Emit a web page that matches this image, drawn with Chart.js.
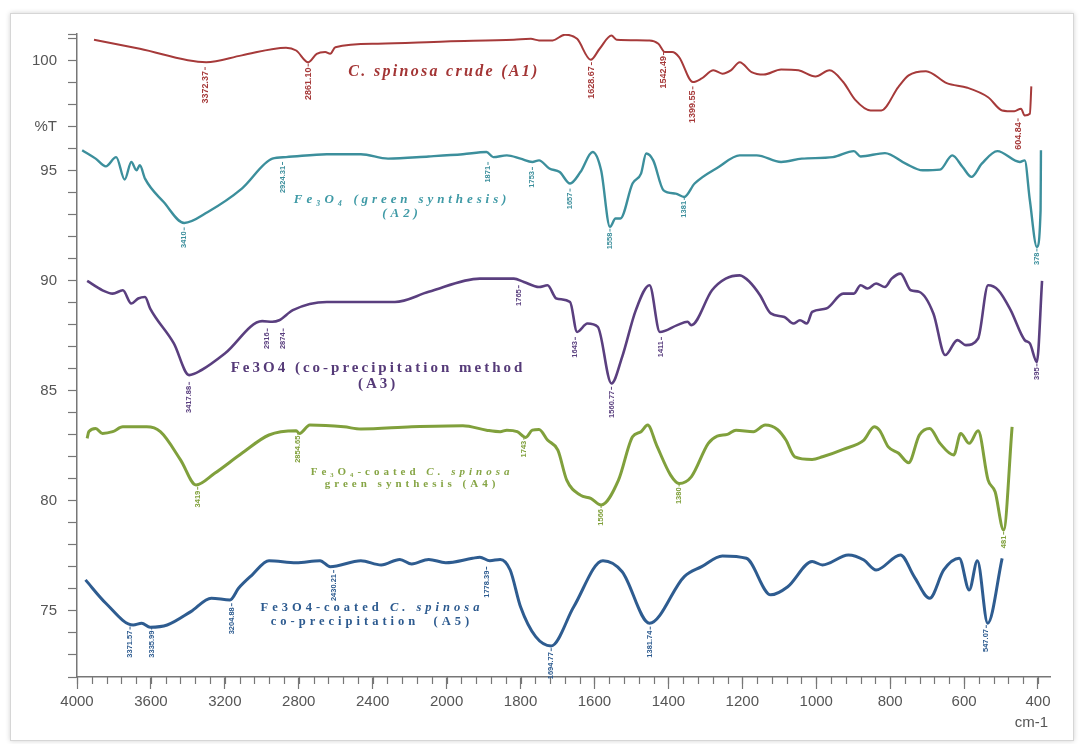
<!DOCTYPE html>
<html>
<head>
<meta charset="utf-8">
<script src="https://cdn.jsdelivr.net/npm/chart.js@4.4.1/dist/chart.umd.min.js"></script>
<style>
  body { margin: 0; background: #fff; }
  .frame { position: absolute; left: 10px; top: 13px; width: 1062px; height: 726px;
           border: 1px solid #d6d6d6; box-shadow: 0 0 5px rgba(0,0,0,0.18); }
  #ftir { position: absolute; left: 0; top: 0; }
</style>
</head>
<body>
<div class="frame"></div>
<canvas id="ftir" width="1081" height="744"></canvas>
<script>
// Tick labels (wavenumber axis is compressed 2:1 above 2000 cm-1)
const xTickLabels = [4000, 3600, 3200, 2800, 2400, 2000, 1800, 1600, 1400, 1200, 1000, 800, 600, 400];
const yTickLabels = [100, 95, 90, 85, 80, 75];

// A1 - C. spinosa crude
const A1_wn = [3908, 3660, 3301, 3108, 2869, 2814, 2749, 2703, 2657, 2630, 2602, 2372, 2005, 1818, 1772, 1750, 1713, 1680, 1647, 1610, 1586, 1554, 1540, 1451, 1427, 1409, 1390, 1371, 1334, 1311, 1278, 1254, 1231, 1207, 1175, 1142, 1095, 1048, 1002, 964, 927, 895, 853, 824, 778, 750, 703, 647, 591, 535, 497, 464, 446, 436, 422, 418];
const A1_T = [100.94, 100.53, 99.92, 100.23, 100.58, 100.45, 99.92, 100.3, 100.38, 100.3, 100.6, 100.76, 100.86, 100.94, 100.98, 100.91, 100.91, 101.17, 100.98, 100.03, 100.53, 101.13, 100.94, 100.91, 100.76, 100.38, 100.38, 100.15, 99.02, 99.17, 99.55, 99.4, 99.55, 99.92, 99.47, 99.36, 99.59, 99.55, 99.27, 99.55, 99.02, 98.22, 97.73, 97.73, 98.79, 99.32, 99.51, 98.97, 98.76, 98.33, 97.73, 97.69, 97.81, 97.5, 97.58, 98.82];

// A2 - Fe3O4 green synthesis
const A2_wn = [3972, 3899, 3844, 3788, 3742, 3706, 3678, 3660, 3632, 3531, 3420, 3292, 3108, 2943, 2869, 2648, 2464, 2317, 2097, 1956, 1892, 1874, 1837, 1800, 1768, 1750, 1722, 1694, 1666, 1638, 1605, 1582, 1558, 1543, 1530, 1497, 1474, 1460, 1441, 1413, 1380, 1357, 1329, 1264, 1207, 1161, 1095, 1039, 955, 898, 880, 814, 758, 712, 665, 632, 604, 580, 552, 510, 449, 436, 422, 403, 393, 392];
const A2_T = [95.92, 95.54, 95.19, 95.61, 94.59, 95.39, 95.01, 95.24, 94.63, 93.57, 92.62, 93.12, 94.18, 95.54, 95.61, 95.74, 95.74, 95.54, 95.64, 95.74, 95.84, 95.61, 95.69, 95.54, 95.39, 95.46, 95.09, 94.93, 94.41, 94.93, 95.84, 95.01, 92.44, 92.82, 92.82, 94.41, 94.86, 95.77, 95.46, 94.1, 93.95, 93.8, 94.41, 95.16, 95.69, 95.69, 95.39, 95.54, 95.61, 95.88, 95.64, 95.79, 95.31, 95.01, 95.04, 95.69, 95.16, 94.71, 95.31, 95.88, 95.39, 95.46, 93.65, 91.53, 93.19, 95.92];

// A3 - Fe3O4 co-precipitation
const A3_wn = [3945, 3862, 3807, 3752, 3706, 3669, 3632, 3604, 3476, 3393, 3328, 3200, 2998, 2943, 2906, 2832, 2648, 2280, 2097, 1910, 1818, 1791, 1750, 1727, 1703, 1666, 1647, 1619, 1591, 1554, 1525, 1488, 1451, 1423, 1376, 1348, 1338, 1282, 1245, 1207, 1180, 1152, 1123, 1086, 1062, 1044, 1025, 1011, 973, 927, 898, 880, 861, 838, 814, 796, 772, 744, 721, 683, 651, 618, 595, 562, 535, 507, 474, 436, 422, 403, 389];
const A3_T = [89.99, 89.56, 89.41, 89.56, 88.96, 89.19, 89.26, 88.73, 87.15, 85.71, 85.93, 86.69, 88.16, 88.13, 88.2, 88.66, 89.03, 89.03, 89.49, 90.09, 90.09, 89.94, 89.71, 89.79, 89.19, 89.03, 87.67, 88.05, 87.9, 85.33, 86.54, 88.66, 89.79, 87.67, 87.98, 88.13, 87.98, 89.56, 90.09, 90.24, 89.94, 89.34, 88.51, 88.35, 88.05, 88.2, 88.05, 88.58, 88.73, 89.41, 89.41, 89.79, 89.64, 89.87, 89.71, 90.09, 90.32, 89.56, 89.49, 88.51, 86.62, 87.3, 87.07, 87.37, 89.79, 89.56, 88.66, 87.3, 87.15, 86.31, 89.99];

// A4 - Fe3O4-coated C. spinosa, green synthesis
const A4_wn = [3945, 3936, 3899, 3862, 3807, 3752, 3623, 3549, 3439, 3356, 3255, 3108, 2961, 2814, 2796, 2740, 2556, 2464, 2189, 1956, 1892, 1855, 1837, 1809, 1786, 1768, 1750, 1727, 1699, 1675, 1638, 1610, 1582, 1535, 1497, 1474, 1456, 1432, 1394, 1371, 1338, 1292, 1268, 1240, 1217, 1170, 1138, 1105, 1082, 1058, 1011, 983, 927, 871, 843, 829, 805, 777, 750, 721, 693, 665, 628, 609, 586, 562, 535, 516, 493, 470];
const A4_T = [82.84, 83.14, 83.29, 83.06, 83.14, 83.36, 83.36, 83.14, 81.85, 80.72, 81.25, 82.16, 82.99, 83.18, 83.06, 83.44, 83.36, 83.26, 83.36, 83.41, 83.21, 83.14, 83.21, 83.14, 82.88, 83.21, 83.24, 82.76, 82.3, 80.94, 80.26, 80.11, 79.81, 80.94, 82.91, 83.14, 83.44, 82.53, 81.17, 80.79, 81.09, 82.61, 82.94, 83.02, 83.21, 83.14, 83.44, 83.24, 82.76, 82.0, 81.88, 82.0, 82.34, 82.76, 83.36, 83.21, 82.45, 82.16, 81.73, 82.99, 83.29, 82.61, 82.08, 83.06, 82.61, 83.18, 80.94, 80.41, 78.68, 83.36];

// A5 - Fe3O4-coated C. spinosa, co-precipitation
const A5_wn = [3954, 3844, 3696, 3650, 3604, 3512, 3384, 3273, 3172, 3126, 3053, 2961, 2814, 2685, 2630, 2464, 2354, 2253, 2189, 2097, 2005, 1930, 1910, 1883, 1855, 1828, 1800, 1759, 1717, 1656, 1577, 1525, 1451, 1357, 1310, 1254, 1189, 1123, 1077, 1011, 983, 913, 871, 838, 772, 735, 693, 655, 613, 586, 564, 536, 497];
const A5_T = [76.41, 75.35, 74.36, 74.44, 74.26, 74.36, 74.97, 75.58, 75.5, 76.03, 76.63, 77.28, 77.19, 77.28, 77.01, 77.28, 77.09, 77.34, 77.13, 77.34, 77.19, 77.39, 77.44, 77.28, 77.34, 76.86, 75.19, 73.83, 73.41, 75.19, 77.28, 76.78, 74.44, 76.56, 77.01, 77.5, 77.39, 75.73, 76.1, 77.24, 77.09, 77.54, 77.31, 76.86, 77.54, 76.56, 75.58, 76.86, 77.39, 75.95, 77.28, 74.44, 77.39];

// peak annotations: [wavenumber, %T at label top, printed value]
const A1_peaks = [[3307, 99.7, '3372.37'], [2749, 99.86, '2861.10'], [1608, 99.92, '1628.67'], [1413, 100.38, '1542.49'], [1334, 98.82, '1399.55'], [454, 97.37, '604.84']];
const A2_peaks = [[3420, 92.42, '3410'], [2888, 95.39, '2924.31'], [1888, 95.39, '1871'], [1768, 95.16, '1753'], [1666, 94.18, '1657'], [1558, 92.36, '1558'], [1357, 93.8, '1381'], [403, 91.46, '378']];
const A3_peaks = [[3393, 85.4, '3417.88'], [2970, 87.83, '2916'], [2884, 87.83, '2874'], [1805, 89.79, '1765'], [1652, 87.44, '1643'], [1554, 85.18, '1560.77'], [1419, 87.44, '1411'], [403, 86.24, '395']];
const A4_peaks = [[3347, 80.64, '3419'], [2805, 83.14, '2854.65'], [1791, 82.91, '1743'], [1582, 79.81, '1566'], [1371, 80.79, '1380'], [493, 78.6, '481']];
const A5_peaks = [[3713, 74.29, '3371.57'], [3596, 74.29, '3335.99'], [3163, 75.35, '3204.88'], [2611, 76.86, '2430.21'], [1892, 77.01, '1778.39'], [1717, 73.31, '1694.77'], [1449, 74.29, '1381.74'], [540, 74.36, '547.07']];

const colors = ['#a63a3a', '#3c8f9c', '#5a3f7f', '#80a03c', '#2e5c90'];
const widths = [2, 2.4, 2.6, 3, 3];

// axis position: 4000-2000 drawn at half scale
const toAxis = w => w > 2000 ? 2000 + (w - 2000) / 2 : w;
const fromAxis = t => t > 2000 ? Math.round(2000 + (t - 2000) * 2) : Math.round(t);

const series = [[A1_wn, A1_T], [A2_wn, A2_T], [A3_wn, A3_T], [A4_wn, A4_T], [A5_wn, A5_T]];
const peaks = [A1_peaks, A2_peaks, A3_peaks, A4_peaks, A5_peaks];

const names = [
  { w: 2014, T: 99.5, size: 16, sp: 2.3, color: '#a33535', lines: [[['C. spinosa crude (A1)', 'bold italic']]] },
  { w: 2241, T: 93.7, size: 13, sp: 3.9, color: '#3f9aa6', lines: [[['Fe₃O₄ (green synthesis)', 'bold italic']], [['(A2)', 'bold italic']]] },
  { w: 2371, T: 86.03, size: 15, sp: 3, color: '#553a78', lines: [[['Fe3O4 (co-precipitation method', 'bold']], [['(A3)', 'bold']]] },
  { w: 2187, T: 81.31, size: 11, sp: 4, color: '#86a545', lines: [[['Fe₃O₄-coated ', 'bold'], ['C. spinosa', 'bold italic']], [['green synthesis (A4)', 'bold']]] },
  { w: 2404, T: 75.14, size: 12.5, sp: 4, color: '#2c5a8f', lines: [[['Fe3O4-coated ', 'bold'], ['C. spinosa', 'bold italic']], [['co-precipitation  (A5)', 'bold']]] }
];

const xMajor = xTickLabels.map(toAxis);
const xMinor = [];
for (let t = 400; t <= 3000; t += 40) xMinor.push(t);
const yTicks = [];
for (let v = 72; v <= 101; v++) yTicks.push(v);
yTicks.push(101.2);

const decor = {
  id: 'decor',
  afterDraw(chart) {
    const ctx = chart.ctx;
    const xs = chart.scales.x, ys = chart.scales.y;
    const bottom = chart.chartArea.bottom;
    ctx.save();
    // minor ticks on wavenumber axis
    ctx.strokeStyle = '#777';
    ctx.lineWidth = 1.2;
    xMinor.forEach(t => {
      const px = Math.round(xs.getPixelForValue(t)) + 0.5;
      ctx.beginPath(); ctx.moveTo(px, bottom); ctx.lineTo(px, bottom + 7); ctx.stroke();
    });
    // peak labels
    peaks.forEach((list, i) => {
      ctx.fillStyle = colors[i];
      ctx.strokeStyle = colors[i];
      ctx.font = (i === 0 ? 'bold 9px' : 'bold 7.5px') + ' "Liberation Sans"';
      list.forEach(([w, T, txt]) => {
        const px = xs.getPixelForValue(toAxis(w));
        const py = ys.getPixelForValue(T);
        ctx.lineWidth = 1;
        ctx.beginPath(); ctx.moveTo(px, py); ctx.lineTo(px, py + 3); ctx.stroke();
        ctx.save();
        ctx.translate(px, py + 4);
        ctx.rotate(-Math.PI / 2);
        ctx.textAlign = 'right';
        ctx.textBaseline = 'middle';
        ctx.fillText(txt, 0, 0);
        ctx.restore();
      });
    });
    // series names
    ctx.textBaseline = 'middle';
    ctx.textAlign = 'left';
    names.forEach(n => {
      const cx = xs.getPixelForValue(toAxis(n.w));
      let cy = ys.getPixelForValue(n.T);
      ctx.fillStyle = n.color;
      ctx.letterSpacing = n.sp + 'px';
      n.lines.forEach(runs => {
        let total = 0;
        runs.forEach(([s, st]) => { ctx.font = st + ' ' + n.size + 'px "Liberation Serif"'; total += ctx.measureText(s).width; });
        let x = cx - total / 2;
        runs.forEach(([s, st]) => {
          ctx.font = st + ' ' + n.size + 'px "Liberation Serif"';
          ctx.fillText(s, x, cy);
          x += ctx.measureText(s).width;
        });
        cy += n.size + 1;
      });
    });
    ctx.letterSpacing = '0px';
    // unit label
    ctx.fillStyle = '#555';
    ctx.font = '15px "Liberation Sans"';
    ctx.textAlign = 'right';
    ctx.fillText('cm-1', chart.chartArea.right - 2, 723);
    ctx.restore();
  }
};

const tickFont = { family: 'Liberation Sans', size: 15 };

new Chart(document.getElementById('ftir'), {
  type: 'line',
  data: {
    datasets: series.map(([wn, T], i) => ({
      data: wn.map((w, k) => ({ x: toAxis(w), y: T[k] })),
      borderColor: colors[i],
      borderWidth: widths[i],
      pointRadius: 0,
      cubicInterpolationMode: 'monotone',
      fill: false
    }))
  },
  options: {
    responsive: false,
    animation: false,
    devicePixelRatio: 1,
    layout: { padding: { left: 0, top: 34, right: 31, bottom: 0 } },
    plugins: { legend: { display: false }, tooltip: { enabled: false } },
    scales: {
      x: {
        type: 'linear',
        reverse: true,
        min: 367.5,
        max: 3000,
        afterBuildTicks: s => { s.ticks = xMajor.map(v => ({ value: v })); },
        afterFit: s => { s.height = 67; },
        ticks: { autoSkip: false, maxRotation: 0, padding: 4, color: '#555', font: tickFont,
                 callback: v => String(fromAxis(v)) },
        grid: { drawOnChartArea: false, tickLength: 12, color: '#777', tickWidth: 1.2 },
        border: { color: '#777', width: 1.5 }
      },
      y: {
        min: 72,
        max: 101.2,
        afterBuildTicks: s => { s.ticks = yTicks.map(v => ({ value: v })); },
        afterFit: s => { s.width = 77; },
        ticks: { autoSkip: false, padding: 11, color: '#555', font: tickFont,
                 callback: v => v === 97 ? '%T' : (yTickLabels.includes(v) ? String(v) : '') },
        grid: { drawOnChartArea: false, tickLength: 9, color: '#777', tickWidth: 1.2 },
        border: { color: '#777', width: 1.5 }
      }
    }
  },
  plugins: [decor]
});
</script>
</body>
</html>
